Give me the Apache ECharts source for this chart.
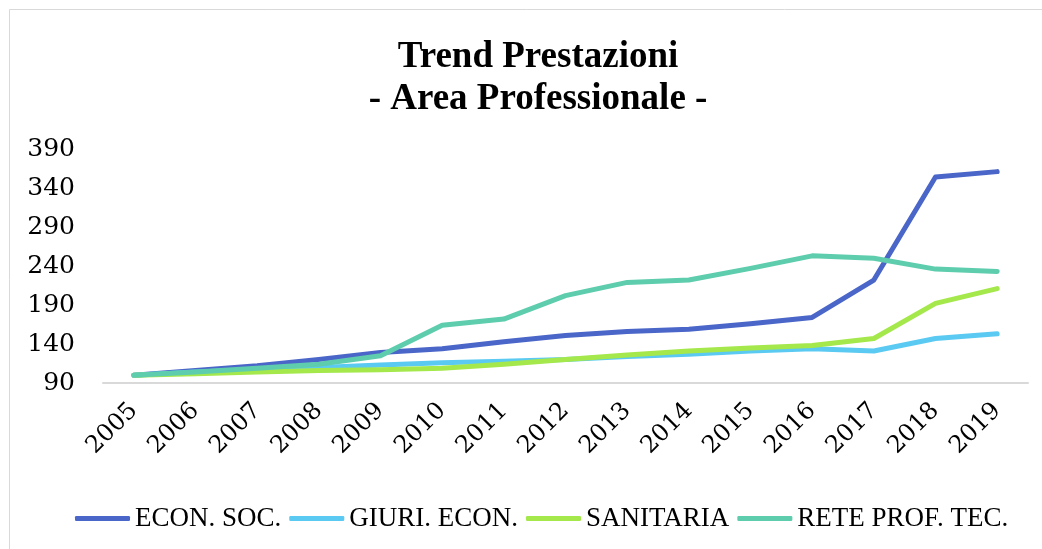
<!DOCTYPE html>
<html>
<head>
<meta charset="utf-8">
<script src="https://cdn.jsdelivr.net/npm/echarts@6/dist/echarts.min.js"></script>
<style>
  html, body { margin: 0; padding: 0; background: #fff; }
  #chart { width: 1042px; height: 549px; }
</style>
</head>
<body>
<div id="chart"></div>
<script>
// Years on the category axis
const years = ['2005','2006','2007','2008','2009','2010','2011','2012','2013','2014','2015','2016','2017','2018','2019'];

// Index of services per professional area (2005 = 100)
const econSoc   = [100, 106, 112, 120, 129, 134, 143, 151, 156, 159, 166, 174, 222, 354, 361];
const giuriEcon = [100, 104, 107, 110, 113, 116, 118, 120, 124, 127, 131, 134, 131, 147, 153];
const sanitaria = [100, 102, 104, 106, 107, 109, 114, 120, 126, 131, 135, 138, 147, 192, 211];
const reteProf  = [100, 104, 109, 114, 125, 164, 172, 202, 219, 222, 237, 253, 250, 236, 233];

const seriesNames = ['ECON. SOC.', 'GIURI. ECON.', 'SANITARIA', 'RETE PROF. TEC.'];
const seriesData = [econSoc, giuriEcon, sanitaria, reteProf];
const colors = ['#4A66C8', '#5BCAF2', '#A4E84C', '#5ECDAD'];

const serif = 'Liberation Serif';

const chart = echarts.init(document.getElementById('chart'), null, { renderer: 'canvas' });

chart.setOption({
  animation: false,
  backgroundColor: '#ffffff',
  color: colors,
  graphic: [{
    type: 'rect',
    shape: { x: 9.5, y: 9.5, width: 1100, height: 600 },
    style: { fill: 'none', stroke: '#D9D9D9', lineWidth: 1 },
    silent: true
  }],
  title: {
    text: 'Trend Prestazioni\n- Area Professionale -',
    left: 533,
    textAlign: 'center',
    top: 31,
    textStyle: {
      fontFamily: serif,
      fontWeight: 'bold',
      fontSize: 37,
      lineHeight: 42,
      color: '#000'
    }
  },
  legend: {
    data: seriesNames,
    left: 70,
    top: 500,
    itemWidth: 55,
    itemHeight: 5,
    itemGap: 8,
    icon: 'roundRect',
    textStyle: { fontFamily: serif, fontSize: 27, color: '#000' }
  },
  grid: { left: 103, right: 14, top: 149, bottom: 166, containLabel: false },
  xAxis: {
    type: 'category',
    data: years,
    boundaryGap: true,
    axisLine: { lineStyle: { color: '#D9D9D9', width: 2 } },
    axisTick: { show: false },
    axisLabel: {
      rotate: 45,
      margin: 24,
      interval: 0,
      fontFamily: 'DejaVu Serif',
      fontSize: 24,
      color: '#000'
    }
  },
  yAxis: {
    type: 'value',
    min: 90,
    max: 390,
    interval: 50,
    axisLine: { show: false },
    axisTick: { show: false },
    splitLine: { show: false },
    axisLabel: {
      margin: 28,
      fontFamily: 'DejaVu Serif',
      fontSize: 25,
      color: '#000'
    }
  },
  series: seriesNames.map((name, i) => ({
    name: name,
    type: 'line',
    data: seriesData[i],
    symbol: 'none',
    lineStyle: { width: 5, cap: 'round', join: 'round', color: colors[i] },
    itemStyle: { color: colors[i] }
  }))
});
</script>
</body>
</html>
